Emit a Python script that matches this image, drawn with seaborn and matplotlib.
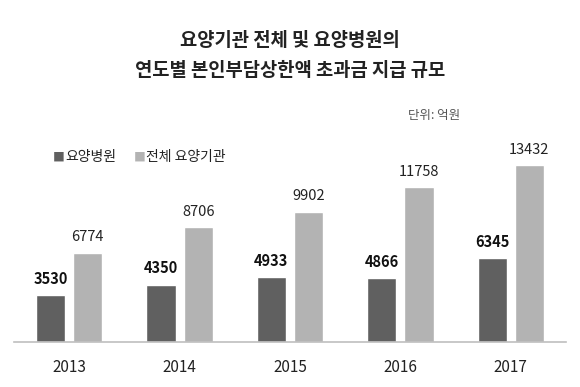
import pandas as pd
import seaborn as sns
import matplotlib.pyplot as plt

years = ["2013", "2014", "2015", "2016", "2017"]
hospital = [3530, 4350, 4933, 4866, 6345]
total = [6774, 8706, 9902, 11758, 13432]
series = ["요양병원", "전체 요양기관"]
colors = ["#606060", "#b3b3b3"]

df = pd.DataFrame({
    "year": years * 2,
    "value": hospital + total,
    "group": [series[0]] * len(years) + [series[1]] * len(years),
})

sns.set_theme(style="white")
plt.rcParams["font.family"] = ["Noto Sans CJK KR", "DejaVu Sans"]

fig = plt.figure(figsize=(5.8, 3.87), dpi=100)
ax = fig.add_axes([14 / 580, 1 - 342 / 387, 552 / 580, 222 / 387])

sns.barplot(data=df, x="year", y="value", hue="group", palette=colors,
            width=0.673, gap=0.217, ax=ax, legend=False, saturation=1)

ax.set_xlim(-0.5, 4.5)
ax.set_ylim(0, 16850)
for name in ["top", "right", "left"]:
    ax.spines[name].set_visible(False)
ax.spines["bottom"].set_color("#bfbfbf")
ax.spines["bottom"].set_linewidth(1.2)
ax.set_yticks([])
ax.set_xlabel("")
ax.set_ylabel("")
ax.tick_params(axis="x", length=0, pad=12, labelsize=11, labelcolor="#222222")

ax.bar_label(ax.containers[0], padding=6, fontsize=10.5, fontweight="bold", color="#111111")
ax.bar_label(ax.containers[1], padding=6, fontsize=10.5, color="#222222")

# title, two lines, slightly spaced out like the original
fig.text(0.5, 1 - 40 / 387, "요양기관 전체 및 요양병원의", ha="center", va="center",
         fontsize=13.5, fontweight="bold", color="#222222")
fig.text(0.5, 1 - 70 / 387, "연도별 본인부담상한액 초과금 지급 규모", ha="center", va="center",
         fontsize=13.5, fontweight="bold", color="#222222")
fig.text(408 / 580, 1 - 115 / 387, "단위: 억원", ha="left", va="center",
         fontsize=9, color="#555555")

# legend drawn as text with square markers
fig.text(53 / 580, 1 - 157 / 387, "■", ha="left", va="center", fontsize=8.5, color=colors[0])
fig.text(65 / 580, 1 - 157 / 387, series[0], ha="left", va="center", fontsize=10, color="#222222")
fig.text(134 / 580, 1 - 157 / 387, "■", ha="left", va="center", fontsize=8.5, color=colors[1])
fig.text(146 / 580, 1 - 157 / 387, series[1], ha="left", va="center", fontsize=10, color="#222222")

fig.savefig("out.png", dpi=100)
